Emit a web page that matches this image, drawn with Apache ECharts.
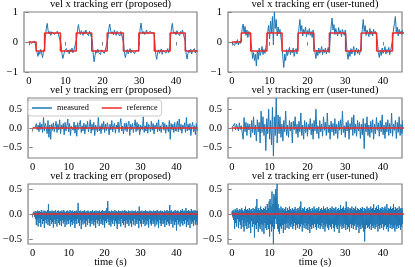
<!DOCTYPE html>
<html>
<head>
<meta charset="utf-8">
<script src="https://cdn.jsdelivr.net/npm/echarts@6/dist/echarts.min.js"></script>
<style>
html,body{margin:0;padding:0;background:#fff;}
#chart{width:415px;height:267px;}
</style>
</head>
<body>
<div id="chart"></div>
<script>
// ---- data ----
const SAMPLE_DT_XY = 0.25;  // seconds between samples of the x / y measured signals
const SAMPLE_DT_Z = 0.125;  // seconds between samples of the z measured signals
const xTicks = [0, 10, 20, 30, 40];
const yTicksX = [-1, 0, 1];
const yTicksYZ = [-0.5, 0, 0.5];
const titles = [
  'vel x tracking err (proposed)', 'vel x tracking err (user-tuned)',
  'vel y tracking err (proposed)', 'vel y tracking err (user-tuned)',
  'vel z tracking err (proposed)', 'vel z tracking err (user-tuned)'
];
const xAxisTitle = 'time (s)';
const legendNames = ['measured', 'reference'];

// reference step signals: value holds from time t[i] until t[i+1]
const refXPropT = [0, 2.0, 4.3, 8.6, 12.9, 17.1, 21.3, 25.7, 29.9, 34.1, 38.4, 42.5, 45.9];
const refXPropV = [0, -0.3, 0.3, -0.3, 0.3, -0.3, 0.3, -0.3, 0.3, -0.3, 0.3, -0.3, -0.3];
const refXUserT = [0, 2.5, 5.0, 9.3, 13.3, 17.5, 21.7, 25.8, 30.1, 34.2, 38.3, 42.5, 45.9];
const refXUserV = [0, 0.3, -0.3, 0.3, -0.3, 0.3, -0.3, 0.3, -0.3, 0.3, -0.3, 0.3, 0.3];
const refZeroT = [0, 45.9];
const refZeroV = [0, 0];

// measured signals
const velXProp = [
 0.02,-0.03,0.04,-0.05,0.01,-0.08,0.03,-0.06,
 -0.12,-0.35,-0.48,-0.32,-0.41,-0.25,-0.38,-0.52,-0.29,-0.22,
 0.15,0.45,0.62,0.38,0.27,0.35,0.22,0.34,0.28,0.4,0.25,0.31,0.2,0.36,0.27,0.33,0.24,
 -0.05,-0.38,-0.55,-0.42,-0.3,-0.36,-0.22,-0.34,-0.27,-0.4,-0.25,-0.33,-0.2,-0.36,-0.28,-0.33,-0.24,
 0.1,0.42,0.58,0.36,0.25,0.38,0.3,0.22,0.35,0.27,0.4,0.29,0.32,0.21,0.36,0.26,0.31,
 0.05,-0.4,-0.66,-0.45,-0.28,-0.37,-0.24,-0.35,-0.3,-0.42,-0.26,-0.32,-0.21,-0.38,-0.29,-0.34,-0.27,
 0.12,0.45,0.6,0.38,0.27,0.34,0.24,0.39,0.3,0.22,0.36,0.28,0.33,0.2,0.35,0.29,0.32,
 -0.02,-0.38,-0.52,-0.35,-0.25,-0.4,-0.3,-0.22,-0.37,-0.27,-0.33,-0.24,-0.39,-0.3,-0.26,-0.35,-0.28,
 0.08,0.43,0.63,0.37,0.28,0.35,0.25,0.32,0.4,0.27,0.3,0.22,0.36,0.29,0.33,0.24,0.31,
 0.0,-0.42,-0.58,-0.36,-0.26,-0.38,-0.3,-0.23,-0.41,-0.28,-0.33,-0.25,-0.37,-0.3,-0.22,-0.36,-0.29,
 0.1,0.46,0.62,0.36,0.27,0.34,0.24,0.38,0.29,0.32,0.21,0.35,0.28,0.4,0.26,0.31,
 0.02,-0.4,-0.57,-0.38,-0.27,-0.35,-0.24,-0.4,-0.29,-0.33,-0.22,-0.37,-0.28,-0.32
];
const velXUser = [
 0.0,-0.04,0.05,-0.12,0.02,-0.06,0.08,-0.1,0.03,-0.05,
 0.12,0.45,0.6,0.3,0.52,0.22,0.4,0.15,0.35,0.25,
 0.1,-0.2,-0.55,-0.35,-0.62,-0.4,-0.8,-0.3,-0.58,-0.2,-0.45,-0.32,-0.15,-0.42,-0.25,-0.38,-0.18,
 0.0,0.35,0.55,0.1,0.7,0.3,0.85,-0.1,1.0,0.45,0.75,0.2,0.5,0.28,0.42,0.15,
 -0.1,-0.5,-0.85,-0.4,-0.62,-0.25,-0.45,-0.3,-0.18,-0.42,-0.28,-0.36,-0.2,-0.48,-0.3,-0.22,-0.4,
 0.05,0.45,0.75,0.35,0.55,0.2,0.42,0.28,0.5,0.18,0.38,0.25,0.45,0.22,0.35,0.15,0.4,
 0.0,-0.35,-0.55,-0.28,-0.45,-0.2,-0.38,-0.3,-0.15,-0.42,-0.25,-0.35,-0.2,-0.4,-0.28,-0.18,-0.36,
 0.1,0.5,0.8,0.4,0.58,0.25,0.45,0.3,0.2,0.48,0.28,0.38,0.18,0.42,0.3,0.22,0.4,
 0.05,-0.38,-0.58,-0.3,-0.48,-0.22,-0.4,-0.28,-0.15,-0.45,-0.3,-0.2,-0.38,-0.25,-0.42,-0.3,
 0.05,0.42,0.75,0.35,0.55,0.22,0.4,0.3,0.18,0.45,0.25,0.36,0.2,0.42,0.28,0.35,0.22,
 0.0,-0.35,-0.52,-0.28,-0.45,-0.2,-0.38,-0.3,-0.15,-0.4,-0.25,-0.35,-0.18,-0.42,-0.28,-0.32,
 0.05,0.4,0.62,0.85,0.3,0.5,0.2,0.42,0.28,0.36,0.25,0.4,0.3,0.35
];
const velYProp = [
 0.0,0.02,-0.01,0.03,0.12,-0.05,0.08,-0.1,0.15,-0.04,0.1,-0.12,
 0.28,-0.08,0.12,0.02,-0.15,0.2,-0.25,0.08,-0.3,0.1,-0.06,0.14,
 -0.1,0.05,0.18,-0.12,0.1,-0.05,0.22,-0.15,0.08,-0.02,0.12,-0.18,
 0.15,-0.08,0.06,0.24,-0.1,0.12,-0.2,0.05,0.1,-0.06,0.16,-0.14,
 0.08,-0.22,0.14,-0.04,0.1,0.2,-0.12,0.06,-0.08,0.13,-0.16,0.09,
 -0.03,0.18,-0.1,0.05,0.22,-0.14,0.1,-0.06,0.15,-0.2,0.08,0.12,
 -0.1,0.28,-0.08,0.06,-0.15,0.12,-0.04,0.18,-0.12,0.1,-0.07,0.14,
 0.04,-0.18,0.1,-0.05,0.2,-0.1,0.06,0.12,-0.14,0.08,-0.02,0.16,
 -0.12,0.1,0.25,-0.08,0.05,-0.16,0.12,-0.06,0.14,-0.1,0.08,0.18,
 -0.2,0.1,-0.04,0.12,-0.12,0.06,0.22,-0.1,0.15,-0.06,0.1,-0.18,
 0.08,0.12,-0.05,0.3,-0.12,0.06,-0.08,0.16,-0.14,0.1,0.04,-0.1,
 0.18,-0.06,0.12,-0.16,0.08,-0.02,0.14,-0.1,0.22,-0.08,0.06,-0.12,
 0.1,0.16,-0.06,0.12,-0.14,0.08,0.05,-0.1,0.2,-0.3,0.12,-0.05,
 0.1,-0.12,0.15,-0.08,0.06,0.18,-0.1,0.24,-0.06,0.1,-0.14,0.08,
 -0.02,0.14,-0.12,0.28,-0.08,0.1,-0.06,0.12,-0.2,0.05,0.15,-0.1,
 0.06,-0.18,0.12,-0.08
];
const velYUser = [
 0.0,0.05,-0.03,0.12,-0.05,0.1,0.02,-0.08,0.14,-0.04,0.06,0.1,
 -0.3,0.28,-0.1,0.15,-0.2,0.12,-0.05,0.1,-0.25,0.2,-0.12,0.3,
 -0.18,0.08,-0.35,0.22,-0.1,0.15,-0.4,0.45,-0.12,0.3,-0.2,0.1,
 -0.6,0.25,-0.15,0.5,-0.3,0.2,-0.45,0.55,-0.75,0.3,-0.2,0.8,
 -0.4,0.35,-0.15,0.3,-0.25,0.1,-0.35,0.2,-0.1,0.45,-0.2,0.08,
 -0.25,0.2,-0.08,0.15,-0.4,0.18,-0.05,0.3,-0.15,0.1,-0.25,0.18,
 -0.1,0.4,-0.2,0.08,-0.3,0.2,-0.12,0.15,-0.22,0.1,-0.05,0.25,
 -0.18,0.12,-0.3,0.2,-0.08,0.5,-0.15,0.06,-0.28,0.2,-0.1,0.1,
 -0.22,0.3,-0.06,0.15,-0.2,0.4,-0.12,0.08,-0.3,0.18,-0.1,0.12,
 -0.2,0.25,-0.15,0.1,-0.28,0.18,-0.06,0.22,-0.18,0.45,-0.12,0.06,
 -0.25,0.15,-0.08,0.2,-0.3,0.12,-0.05,0.28,-0.2,0.35,-0.14,0.1,
 -0.22,0.2,-0.08,0.15,-0.28,0.1,-0.18,0.25,-0.55,0.12,-0.1,0.3,
 -0.2,0.08,-0.25,0.18,-0.12,0.22,-0.3,0.1,-0.15,0.28,-0.06,0.14,
 -0.22,0.2,-0.1,0.35,-0.18,0.08,-0.28,0.15,-0.1,0.22,-0.2,0.12,
 -0.14,0.4,-0.22,0.1,-0.06,0.2,-0.28,0.15,-0.12,0.3,-0.2,0.1,
 -0.15,0.2,-0.1,0.12
];
const velZProp = [
 0.0,0.04,-0.02,0.05,-0.06,0.03,-0.1,0.06,-0.22,0.04,-0.12,0.07,-0.25,0.05,-0.08,0.06,
 -0.18,0.04,-0.26,0.08,-0.1,0.05,-0.2,0.03,-0.14,0.07,-0.28,0.05,-0.12,0.06,-0.19,0.04,
 -0.1,0.08,-0.22,0.2,-0.15,0.05,-0.24,0.06,-0.12,0.04,-0.2,0.07,-0.16,0.05,-0.27,0.06,
 -0.11,0.05,-0.2,0.08,-0.14,0.03,-0.25,0.06,-0.1,0.07,-0.18,0.04,-0.22,0.06,-0.13,0.05,
 -0.24,0.07,-0.12,0.04,-0.19,0.08,-0.15,0.05,-0.26,0.03,-0.1,0.06,-0.21,0.07,-0.14,0.05,
 -0.2,0.04,-0.11,0.08,-0.25,0.06,-0.16,0.05,-0.22,0.07,-0.12,0.04,-0.19,0.06,-0.28,0.05,
 -0.13,0.07,-0.2,0.04,-0.1,0.22,-0.18,0.06,-0.24,0.05,-0.12,0.07,-0.3,0.04,-0.15,0.06,
 -0.21,0.05,-0.11,0.08,-0.19,0.04,-0.26,0.06,-0.13,0.05,-0.22,0.07,-0.1,0.05,-0.18,0.04,
 -0.25,0.06,-0.14,0.05,-0.2,0.08,-0.12,0.04,-0.23,0.06,-0.16,0.05,-0.28,0.07,-0.11,0.04,
 -0.19,0.06,-0.13,0.05,-0.24,0.07,-0.1,0.04,-0.2,0.06,-0.15,0.08,-0.22,0.05,-0.12,0.06,
 -0.27,0.05,-0.14,0.07,-0.18,0.12,-0.1,0.26,-0.16,0.05,-0.22,0.06,-0.12,0.04,-0.25,0.07,
 -0.15,0.05,-0.2,0.06,-0.11,0.04,-0.24,0.08,-0.14,0.05,-0.19,0.06,-0.3,0.04,-0.12,0.07,
 -0.2,0.05,-0.13,0.06,-0.25,0.04,-0.1,0.07,-0.18,0.05,-0.22,0.06,-0.14,0.08,-0.27,0.05,
 -0.12,0.06,-0.2,0.04,-0.16,0.07,-0.24,0.05,-0.11,0.06,-0.19,0.04,-0.26,0.07,-0.13,0.05,
 -0.21,0.06,-0.1,0.05,-0.23,0.07,-0.15,0.04,-0.2,0.06,-0.12,0.05,-0.28,0.15,-0.14,0.06,
 -0.19,0.05,-0.25,0.07,-0.11,0.04,-0.2,0.06,-0.16,0.05,-0.24,0.08,-0.12,0.05,-0.21,0.06,
 -0.14,0.04,-0.27,0.06,-0.1,0.07,-0.19,0.05,-0.23,0.06,-0.13,0.04,-0.2,0.07,-0.16,0.05,
 -0.25,0.06,-0.12,0.05,-0.21,0.08,-0.15,0.04,-0.28,0.06,-0.11,0.05,-0.19,0.07,-0.24,0.05,
 -0.13,0.06,-0.2,0.04,-0.17,0.07,-0.26,0.05,-0.12,0.06,-0.22,0.08,-0.15,0.05,-0.19,0.06,
 -0.24,0.18,-0.11,0.05,-0.2,0.07,-0.14,0.04,-0.27,0.06,-0.13,0.05,-0.22,0.08,-0.16,0.05,
 -0.33,0.06,-0.12,0.07,-0.21,0.05,-0.15,0.04,-0.25,0.08,-0.11,0.06,-0.19,0.1,-0.23,0.05,
 -0.14,0.07,-0.2,0.05,-0.12,0.12,-0.26,0.06,-0.15,0.05,-0.22,0.08,-0.1,0.06,-0.28,0.05,
 -0.13,0.1,-0.2,0.06,-0.16,0.07,-0.24,0.05,-0.12,0.08,-0.21,0.06,-0.15,0.05,-0.22,0.07
];
const velZUser = [
 0.0,0.06,-0.04,0.08,-0.12,0.05,-0.3,0.1,-0.18,0.06,-0.25,0.12,-0.1,0.08,-0.28,0.06,
 -0.15,0.1,-0.22,0.07,-0.3,0.12,-0.12,0.08,-0.26,0.05,-0.35,0.1,-0.18,0.15,-0.24,0.08,
 -0.3,0.1,-0.16,0.07,-0.28,0.12,-0.2,0.08,-0.38,0.1,-0.14,0.06,-0.26,0.12,-0.2,0.09,
 -0.47,0.1,-0.22,0.15,-0.3,0.3,-0.18,0.08,-0.36,0.12,-0.25,0.07,-0.3,0.15,-0.2,0.1,
 -0.35,0.08,-0.22,0.12,-0.4,0.1,-0.18,0.15,-0.28,0.08,-0.32,0.2,-0.22,0.12,-0.3,0.25,
 -0.45,0.3,-0.2,0.15,-0.35,0.45,-0.25,0.2,-0.6,0.4,-0.3,0.35,-0.1,0.5,-0.2,0.45,
 0.6,-0.3,0.2,-0.35,0.12,-0.4,0.08,-0.25,0.15,-0.3,0.1,-0.22,0.12,-0.38,0.08,-0.2,
 0.1,-0.32,0.14,-0.2,0.06,-0.28,0.12,-0.18,0.08,-0.3,0.15,-0.22,0.1,-0.26,0.07,-0.2,
 0.12,-0.3,0.08,-0.24,0.1,-0.18,0.14,-0.32,0.06,-0.22,0.1,-0.28,0.12,-0.2,0.08,-0.3,
 0.15,-0.25,0.25,-0.2,0.08,-0.35,0.12,-0.22,0.1,-0.28,0.14,-0.18,0.06,-0.3,0.1,-0.24,
 0.12,-0.32,0.08,-0.2,0.14,-0.38,0.1,-0.25,0.06,-0.3,0.12,-0.22,0.08,-0.28,0.15,-0.2,
 0.1,-0.26,0.07,-0.32,0.12,-0.2,0.09,-0.28,0.14,-0.22,0.06,-0.3,0.1,-0.25,0.12,-0.18,
 0.08,-0.3,0.15,-0.22,0.1,-0.35,0.12,-0.25,0.07,-0.2,0.14,-0.28,0.1,-0.32,0.08,-0.22,
 0.12,-0.26,0.1,-0.3,0.15,-0.2,0.08,-0.28,0.12,-0.35,0.1,-0.22,0.14,-0.26,0.07,-0.3,
 0.1,-0.22,0.12,-0.38,0.08,-0.25,0.18,-0.2,0.1,-0.3,0.12,-0.24,0.15,-0.28,0.08,-0.2,
 0.12,-0.32,0.25,-0.22,0.1,-0.3,0.14,-0.26,0.08,-0.35,0.12,-0.2,0.1,-0.28,0.15,-0.22,
 0.08,-0.3,0.12,-0.24,0.1,-0.2,0.15,-0.32,0.07,-0.26,0.12,-0.22,0.1,-0.38,0.08,-0.25,
 0.12,-0.3,0.1,-0.22,0.14,-0.28,0.06,-0.35,0.12,-0.55,0.1,-0.3,0.08,-0.22,0.15,-0.28,
 0.1,-0.25,0.12,-0.3,0.08,-0.2,0.15,-0.32,0.1,-0.24,0.12,-0.28,0.2,-0.22,0.08,-0.3,
 0.12,-0.26,0.15,-0.2,0.1,-0.35,0.18,-0.24,0.08,-0.3,0.12,-0.22,0.1,-0.28,0.14,-0.2,
 0.08,-0.32,0.12,-0.25,0.15,-0.22,0.1,-0.3,0.2,-0.26,0.08,-0.35,0.12,-0.2,0.1,-0.28,
 0.15,-0.22,0.1,-0.3,0.12,-0.25,0.2,-0.28,0.08,-0.35,0.14,-0.22,0.1,-0.3,0.12,-0.24,
 0.08,-0.28,0.15,-0.22,0.1,-0.32,0.12,-0.25,0.08,-0.2,0.12,-0.26,0.1,-0.22,0.14,-0.2
];

// ---- chart ----
const FONT = 'Liberation Serif';
const FS = 10.5;
const BLUE = '#1f77b4';
const RED = '#ee2b2b';
const SPINE = '#808080';

function samples(vals, dt) { return vals.map((v, i) => [i * dt, v]); }
function steps(t, v) { return t.map((tt, i) => [tt, v[i]]); }
function fmt(v) {
  const s = (Math.abs(v) < 1e-9) ? '0' : String(Math.abs(v));
  return (v < -1e-9 ? '\u2212' : '') + s;
}
function fmt1(v) {
  const s = Math.abs(v).toFixed(1);
  return (v < -1e-9 ? '\u2212' : '') + s;
}

const colLeft = [24, 228];
const colWidth = [173, 174];
const rowTop = [12, 98, 184];
const rowHeight = 60;
const xRange = [[-1.3, 45.7], [-1, 45]];
const yRange = [[-1, 1], [-0.8, 0.8], [-0.6, 0.6]];

const measured = [velXProp, velXUser, velYProp, velYUser, velZProp, velZUser];
const dts = [SAMPLE_DT_XY, SAMPLE_DT_XY, SAMPLE_DT_XY, SAMPLE_DT_XY, SAMPLE_DT_Z, SAMPLE_DT_Z];
const refs = [
  steps(refXPropT, refXPropV), steps(refXUserT, refXUserV),
  steps(refZeroT, refZeroV), steps(refZeroT, refZeroV),
  steps(refZeroT, refZeroV), steps(refZeroT, refZeroV)
];

const grids = [], xAxes = [], yAxes = [], series = [], graphics = [];
for (let k = 0; k < 6; k++) {
  const r = Math.floor(k / 2), c = k % 2;
  grids.push({
    left: colLeft[c], top: rowTop[r], width: colWidth[c], height: rowHeight,
    show: true, borderColor: SPINE, borderWidth: 1.2, backgroundColor: 'transparent'
  });
  xAxes.push({
    type: 'value', gridIndex: k, min: xRange[c][0], max: xRange[c][1],
    axisLine: { show: false },
    splitLine: { show: false },
    axisTick: { show: true, inside: false, length: 3.5, customValues: xTicks, lineStyle: { color: SPINE, width: 1 } },
    axisLabel: { show: true, customValues: xTicks, margin: 4, color: '#000', fontFamily: FONT, fontSize: FS, lineHeight: 11, formatter: fmt }
  });
  const yt = r === 0 ? yTicksX : yTicksYZ;
  yAxes.push({
    type: 'value', gridIndex: k, min: yRange[r][0], max: yRange[r][1],
    axisLine: { show: false },
    splitLine: { show: false },
    axisTick: { show: true, inside: false, length: 3.5, customValues: yt, lineStyle: { color: SPINE, width: 1 } },
    axisLabel: { show: true, customValues: yt, margin: 6, color: '#000', fontFamily: FONT, fontSize: FS, lineHeight: 11, formatter: r === 0 ? fmt : fmt1 }
  });
  series.push({
    name: legendNames[0], type: 'line', xAxisIndex: k, yAxisIndex: k,
    data: samples(measured[k], dts[k]), showSymbol: false, symbol: 'none', clip: true,
    lineStyle: { color: BLUE, width: 1 }, itemStyle: { color: BLUE },
    animation: false, z: 2
  });
  series.push({
    name: legendNames[1], type: 'line', xAxisIndex: k, yAxisIndex: k,
    data: refs[k], step: 'end', showSymbol: false, symbol: 'none', clip: true,
    lineStyle: { color: RED, width: 1.5 }, itemStyle: { color: RED },
    animation: false, z: 3
  });
  graphics.push({
    type: 'text',
    x: colLeft[c] + colWidth[c] / 2, y: rowTop[r] - 7.5,
    style: { text: titles[k], fill: '#000', fontSize: 10.6, fontFamily: FONT, fontWeight: 'normal', lineHeight: 11, align: 'center', verticalAlign: 'middle' }
  });
  if (r === 2) {
    graphics.push({
      type: 'text',
      x: colLeft[c] + colWidth[c] / 2, y: 262.5,
      style: { text: xAxisTitle, fill: '#000', fontSize: 10.6, fontFamily: FONT, fontWeight: 'normal', lineHeight: 11, align: 'center', verticalAlign: 'middle' }
    });
  }
}

const chart = echarts.init(document.getElementById('chart'), null, { renderer: 'canvas' });
chart.setOption({
  animation: false,
  textStyle: { fontFamily: FONT },
  grid: grids, xAxis: xAxes, yAxis: yAxes, series: series,
  graphic: graphics,
  legend: {
    data: legendNames,
    left: 28, top: 100, orient: 'horizontal',
    icon: 'rect',
    itemWidth: 20, itemHeight: 1.5, itemGap: 13,
    padding: [3, 4, 3, 4],
    backgroundColor: 'rgba(255,255,255,0.8)',
    borderColor: '#cccccc', borderWidth: 1, borderRadius: 3,
    textStyle: { fontFamily: FONT, fontSize: 8.3, color: '#000', lineHeight: 10 },
    selectedMode: false, z: 10
  }
});
</script>
</body>
</html>
